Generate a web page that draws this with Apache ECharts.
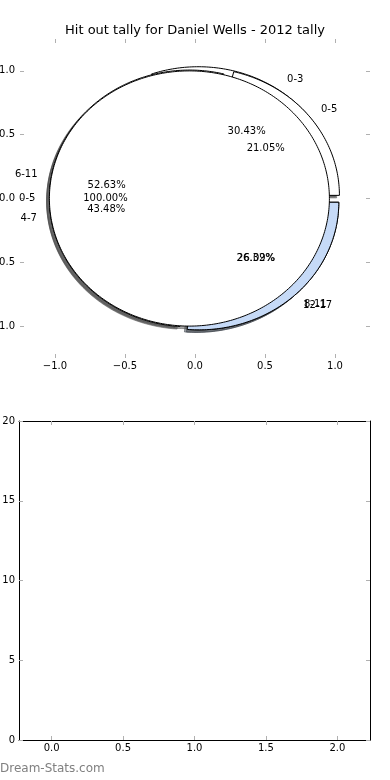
<!DOCTYPE html>
<html>
<head>
<meta charset="utf-8">
<script src="https://cdn.jsdelivr.net/npm/echarts@6/dist/echarts.min.js"></script>
<style>
html,body{margin:0;padding:0;background:#fff;}
#c{width:390px;height:780px;}
</style>
</head>
<body>
<div id="c"></div>
<script>
// ---- data ----
const titleText = 'Hit out tally for Daniel Wells - 2012 tally';
const pie1Labels = ['0-3', '4-7', '8-11'];
const pie1Values = [7, 10, 6];
const pie2Labels = ['0-5', '6-11', '12-17'];
const pie2Values = [4, 10, 5];
const pie3Labels = ['0-5'];
const pie3Values = [1];
const pieTickValues = [-1, -0.5, 0, 0.5, 1];
const barXTickValues = [0, 0.5, 1, 1.5, 2];
const barYMin = 0, barYMax = 20, barYStep = 5;
const watermark = 'Dream-Stats.com';

// ---- styles ----
const FONT = '"DejaVu Sans", Verdana, sans-serif';
const BLUE = '#c6daf7';
const pieColors = [['#ffffff', '#ffffff', BLUE], ['#ffffff', '#ffffff', BLUE], ['#ffffff']];
const EXPLODE = 0.04, LABEL_DIST = 1.1, PCT_DIST = 0.6, SHADOW_OFF = -0.02;

const pies = [
  {labels: pie1Labels, values: pie1Values, colors: pieColors[0]},
  {labels: pie2Labels, values: pie2Values, colors: pieColors[1]},
  {labels: pie3Labels, values: pie3Values, colors: pieColors[2]}
];
const wedges = [];
pies.forEach(p => {
  const tot = p.values.reduce((a, b) => a + b, 0);
  let acc = 0;
  p.values.forEach((v, i) => {
    const t1 = acc / tot * 360; acc += v; const t2 = acc / tot * 360;
    const tm = (t1 + t2) / 2 * Math.PI / 180;
    const cx = EXPLODE * Math.cos(tm), cy = EXPLODE * Math.sin(tm);
    wedges.push({t1, t2, tm, cx, cy, color: p.colors[i % p.colors.length],
      label: p.labels[i], pct: (v / tot * 100).toFixed(2) + '%', value: v});
  });
});

function wedgePoints(api, w, dx, dy) {
  const pts = [];
  const full = (w.t2 - w.t1) >= 359.999;
  if (!full) pts.push(api.coord([w.cx + dx, w.cy + dy]));
  const n = Math.max(4, Math.ceil((w.t2 - w.t1) / 1));
  for (let k = 0; k <= n; k++) {
    const a = (w.t1 + (w.t2 - w.t1) * k / n) * Math.PI / 180;
    pts.push(api.coord([w.cx + dx + Math.cos(a), w.cy + dy + Math.sin(a)]));
  }
  return pts;
}
function shadowColor(hex) {
  const r = parseInt(hex.slice(1, 3), 16), g = parseInt(hex.slice(3, 5), 16), b = parseInt(hex.slice(5, 7), 16);
  return 'rgba(' + Math.round(r * 0.3) + ',' + Math.round(g * 0.3) + ',' + Math.round(b * 0.3) + ',0.5)';
}

const tickStyle = {show: true, inside: true, length: 4, lineStyle: {color: '#b0b0b0', width: 1}};
const labelStyle = {color: '#000', fontSize: 10, fontFamily: FONT};
const hiddenLine = {show: false, onZero: false};
const frameLine = {show: true, onZero: false, lineStyle: {color: '#000', width: 1}};
function fmt1(v) { return (v < 0 ? '\u2212' : '') + Math.abs(v).toFixed(1); }

const chart = echarts.init(document.getElementById('c'), null, {renderer: 'canvas'});
chart.setOption({
  animation: false,
  backgroundColor: '#fff',
  graphic: [
    {type: 'text', x: 195, y: 31, style: {text: titleText, font: '13px ' + FONT, fill: '#000', textAlign: 'center', textVerticalAlign: 'middle'}},
    {type: 'text', x: 0, y: 769, style: {text: watermark, font: '12px ' + FONT, fill: '#808080', textAlign: 'left', textVerticalAlign: 'middle'}}
  ],
  grid: [
    {left: 20, right: 20, top: 39, bottom: 422, containLabel: false, outerBoundsMode: 'none'},
    {left: 19, right: 20, top: 421, bottom: 40, containLabel: false, outerBoundsMode: 'none'}
  ],
  xAxis: [
    {type: 'value', gridIndex: 0, min: -1.25, max: 1.25, position: 'bottom',
      axisLine: hiddenLine, splitLine: {show: false},
      axisTick: Object.assign({customValues: pieTickValues}, tickStyle),
      axisLabel: Object.assign({customValues: pieTickValues, margin: 3, formatter: fmt1}, labelStyle)},
    {type: 'value', gridIndex: 0, min: -1.25, max: 1.25, position: 'top',
      axisLine: hiddenLine, splitLine: {show: false},
      axisTick: Object.assign({customValues: pieTickValues}, tickStyle), axisLabel: {show: false}},
    {type: 'value', gridIndex: 1, min: -0.228, max: 2.228, position: 'bottom',
      axisLine: frameLine, splitLine: {show: false},
      axisTick: Object.assign({customValues: barXTickValues}, tickStyle),
      axisLabel: Object.assign({customValues: barXTickValues, margin: 3, formatter: fmt1}, labelStyle)},
    {type: 'value', gridIndex: 1, min: -0.228, max: 2.228, position: 'top',
      axisLine: frameLine, splitLine: {show: false},
      axisTick: Object.assign({customValues: barXTickValues}, tickStyle), axisLabel: {show: false}}
  ],
  yAxis: [
    {type: 'value', gridIndex: 0, min: -1.25, max: 1.25, position: 'left',
      axisLine: hiddenLine, splitLine: {show: false},
      axisTick: Object.assign({customValues: pieTickValues}, tickStyle),
      axisLabel: Object.assign({customValues: pieTickValues, margin: 5, formatter: fmt1}, labelStyle)},
    {type: 'value', gridIndex: 0, min: -1.25, max: 1.25, position: 'right',
      axisLine: hiddenLine, splitLine: {show: false},
      axisTick: Object.assign({customValues: pieTickValues}, tickStyle), axisLabel: {show: false}},
    {type: 'value', gridIndex: 1, min: barYMin, max: barYMax, interval: barYStep, position: 'left',
      axisLine: frameLine, splitLine: {show: false},
      axisTick: tickStyle, axisLabel: Object.assign({margin: 4}, labelStyle)},
    {type: 'value', gridIndex: 1, min: barYMin, max: barYMax, interval: barYStep, position: 'right',
      axisLine: frameLine, splitLine: {show: false},
      axisTick: tickStyle, axisLabel: {show: false}}
  ],
  series: [
    {
      type: 'custom', name: 'shadows', xAxisIndex: 0, yAxisIndex: 0, z: 1, silent: true,
      data: wedges.map(w => w.value),
      renderItem: function (params, api) {
        const w = wedges[params.dataIndex];
        const c = shadowColor(w.color);
        return {type: 'polygon', shape: {points: wedgePoints(api, w, SHADOW_OFF, SHADOW_OFF)},
          style: {fill: c, stroke: c, lineWidth: 1}};
      }
    },
    {
      type: 'custom', name: 'wedges', xAxisIndex: 0, yAxisIndex: 0, z: 2, silent: true,
      data: wedges.map(w => w.value),
      renderItem: function (params, api) {
        const w = wedges[params.dataIndex];
        return {type: 'polygon', z2: params.dataIndex, shape: {points: wedgePoints(api, w, 0, 0)},
          style: {fill: w.color, stroke: '#000', lineWidth: 1}};
      }
    },
    {
      type: 'custom', name: 'labels', xAxisIndex: 0, yAxisIndex: 0, z: 3, silent: true,
      data: wedges.map(w => w.value),
      renderItem: function (params, api) {
        const w = wedges[params.dataIndex];
        const xt = w.cx + LABEL_DIST * Math.cos(w.tm), yt = w.cy + LABEL_DIST * Math.sin(w.tm);
        const xp = w.cx + PCT_DIST * Math.cos(w.tm), yp = w.cy + PCT_DIST * Math.sin(w.tm);
        const pl = api.coord([xt, yt]), pp = api.coord([xp, yp]);
        return {type: 'group', children: [
          {type: 'text', x: pl[0], y: pl[1], style: {text: w.label, font: '10px ' + FONT, fill: '#000',
            textAlign: xt > 0 ? 'left' : 'right', textVerticalAlign: 'middle'}},
          {type: 'text', x: pp[0], y: pp[1], style: {text: w.pct, font: '10px ' + FONT, fill: '#000',
            textAlign: 'center', textVerticalAlign: 'middle'}}
        ]};
      }
    }
  ]
});
</script>
</body>
</html>
